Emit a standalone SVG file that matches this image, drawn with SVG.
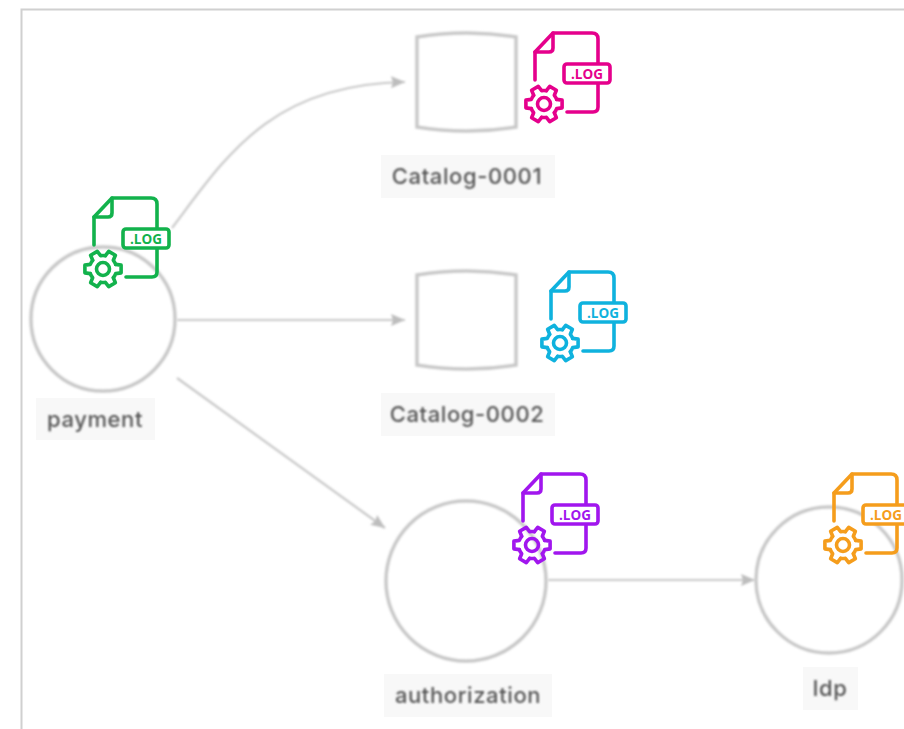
<svg xmlns="http://www.w3.org/2000/svg" width="904" height="729" viewBox="0 0 904 729">
<style>
.shape{fill:#fff;stroke:#c8c8c8;stroke-width:3.5}
.lbg{fill:#f8f8f8}
.lbl{font-family:"Inter","Liberation Sans",sans-serif;font-size:22px;font-weight:500;fill:#555;text-anchor:middle;letter-spacing:.6px}
.edge{fill:none;stroke:#c8c8c8;stroke-width:2.2}
.ic{fill:none;stroke:currentColor;stroke-width:3.6;stroke-linecap:round;stroke-linejoin:round}
.badge{fill:#fff}
.ict{font-family:"Open Sans","Liberation Sans",sans-serif;font-size:13.500px;font-weight:700;fill:currentColor;stroke:none;text-anchor:middle}
.soft{filter:url(#blur)}
</style>
<defs>
<filter id="blur" x="-5%" y="-5%" width="110%" height="110%"><feGaussianBlur stdDeviation="0.8"/></filter>
<marker id="arr" markerUnits="userSpaceOnUse" markerWidth="15" markerHeight="12" refX="14" refY="6" orient="auto"><path d="M0 0L14 6L0 12L2 6Z" fill="#bdbdbd"/></marker>
<path id="tooth" d="M-4.600-12.700L-3.850-18.100L3.850-18.100L4.600-12.700A13.500 13.500 0 0 1 8.680-10.340"/>
<g id="log" class="ic">
<path d="M0 47V19L18 0H57Q63 0 63 6V31M63 50V74Q63 79 58 79H32"/>
<path d="M0 19H14Q18 19 18 15V0"/>
<rect class="badge" x="29" y="31" width="46" height="19" rx="3"/>
<text class="ict" x="52" y="45.500">.LOG</text>
<g transform="translate(9 71)">
<circle r="6.500"/>
<use href="#tooth" transform="rotate(30)"/>
<use href="#tooth" transform="rotate(90)"/>
<use href="#tooth" transform="rotate(150)"/>
<use href="#tooth" transform="rotate(210)"/>
<use href="#tooth" transform="rotate(270)"/>
<use href="#tooth" transform="rotate(330)"/>
</g>
</g>
</defs>
<rect width="904" height="729" fill="#fff"/>
<path d="M21.500 729V9.500H904" fill="none" stroke="#d0d0d0" stroke-width="2"/>
<g id="connectors" class="soft">
<path class="edge" marker-end="url(#arr)" d="M172 228C225 158 270 84 405 82"/>
<path class="edge" marker-end="url(#arr)" d="M177 320H405"/>
<path class="edge" marker-end="url(#arr)" d="M177 378L385 528"/>
<path class="edge" marker-end="url(#arr)" d="M548 580H755"/>
</g>
<g id="payment">
<circle class="shape soft" cx="103" cy="319" r="72"/>
<rect class="lbg" x="36" y="398" width="119" height="42"/>
<text class="lbl soft" x="95" y="427">payment</text>
<use href="#log" x="94" y="198" style="color:#12b24c"/>
</g>
<g id="catalog-0001">
<path class="shape soft" d="M417 37Q467 29 516 37V127Q467 135 417 127Z"/>
<rect class="lbg" x="381" y="155" width="174" height="43"/>
<text class="lbl soft" x="467" y="184">Catalog-0001</text>
<use href="#log" x="535" y="33" style="color:#e5008c"/>
</g>
<g id="catalog-0002">
<path class="shape soft" d="M417 275Q467 267 516 275V365Q467 373 417 365Z"/>
<rect class="lbg" x="381" y="393" width="174" height="43"/>
<text class="lbl soft" x="467" y="422">Catalog-0002</text>
<use href="#log" x="551" y="272" style="color:#0fb2de"/>
</g>
<g id="authorization">
<circle class="shape soft" cx="466" cy="581" r="80"/>
<rect class="lbg" x="384" y="674" width="168" height="43"/>
<text class="lbl soft" x="468" y="703">authorization</text>
<use href="#log" x="523" y="474" style="color:#a116ee"/>
</g>
<g id="idp">
<circle class="shape soft" cx="829" cy="580" r="73"/>
<rect class="lbg" x="803" y="667" width="55" height="43"/>
<text class="lbl soft" x="830" y="696">Idp</text>
<use href="#log" x="834" y="474" style="color:#f59d1c"/>
</g>
</svg>
